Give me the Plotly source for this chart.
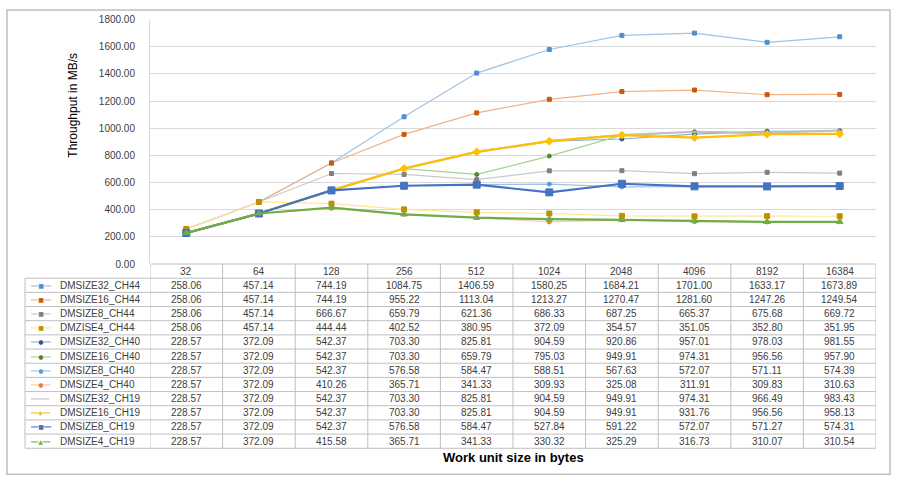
import plotly.graph_objects as go

W, H = 900, 487

sizes = ["32", "64", "128", "256", "512", "1024", "2048", "4096", "8192", "16384"]

series_names = [
    "DMSIZE32_CH44", "DMSIZE16_CH44", "DMSIZE8_CH44", "DMZISE4_CH44",
    "DMSIZE32_CH40", "DMSIZE16_CH40", "DMSIZE8_CH40", "DMSIZE4_CH40",
    "DMSIZE32_CH19", "DMSIZE16_CH19", "DMSIZE8_CH19", "DMSIZE4_CH19",
]

dmsize32_ch44 = [258.06, 457.14, 744.19, 1084.75, 1406.59, 1580.25, 1684.21, 1701.00, 1633.17, 1673.89]
dmsize16_ch44 = [258.06, 457.14, 744.19, 955.22, 1113.04, 1213.27, 1270.47, 1281.60, 1247.26, 1249.54]
dmsize8_ch44 = [258.06, 457.14, 666.67, 659.79, 621.36, 686.33, 687.25, 665.37, 675.68, 669.72]
dmzise4_ch44 = [258.06, 457.14, 444.44, 402.52, 380.95, 372.09, 354.57, 351.05, 352.80, 351.95]
dmsize32_ch40 = [228.57, 372.09, 542.37, 703.30, 825.81, 904.59, 920.86, 957.01, 978.03, 981.55]
dmsize16_ch40 = [228.57, 372.09, 542.37, 703.30, 659.79, 795.03, 949.91, 974.31, 956.56, 957.90]
dmsize8_ch40 = [228.57, 372.09, 542.37, 576.58, 584.47, 588.51, 567.63, 572.07, 571.11, 574.39]
dmsize4_ch40 = [228.57, 372.09, 410.26, 365.71, 341.33, 309.93, 325.08, 311.91, 309.83, 310.63]
dmsize32_ch19 = [228.57, 372.09, 542.37, 703.30, 825.81, 904.59, 949.91, 974.31, 966.49, 983.43]
dmsize16_ch19 = [228.57, 372.09, 542.37, 703.30, 825.81, 904.59, 949.91, 931.76, 956.56, 958.13]
dmsize8_ch19 = [228.57, 372.09, 542.37, 576.58, 584.47, 527.84, 591.22, 572.07, 571.27, 574.31]
dmsize4_ch19 = [228.57, 372.09, 415.58, 365.71, 341.33, 330.32, 325.29, 316.73, 310.07, 310.54]

all_series = [
    dmsize32_ch44, dmsize16_ch44, dmsize8_ch44, dmzise4_ch44,
    dmsize32_ch40, dmsize16_ch40, dmsize8_ch40, dmsize4_ch40,
    dmsize32_ch19, dmsize16_ch19, dmsize8_ch19, dmsize4_ch19,
]

# line colour, marker colour, marker symbol, marker size, line width, key glyph
styles = [
    ("#9DC3E6", "#4F8FCF", "square", 4, 1.2, "■"),
    ("#F4B183", "#C55A11", "square", 4, 1.2, "■"),
    ("#C9C9C9", "#7F7F7F", "square", 4, 1.2, "■"),
    ("#FFE699", "#BF9000", "square", 5, 1.2, "■"),
    ("#8FAADC", "#2F5597", "circle", 4, 1.2, "●"),
    ("#A9D18E", "#548235", "circle", 4, 1.2, "●"),
    ("#9DC3E6", "#5B9BD5", "circle", 4, 1.2, "●"),
    ("#F8CBAD", "#ED7D31", "circle", 4, 1.2, "●"),
    ("#BFBFBF", "#A5A5A5", "line-ew", 5, 2.2, "—"),
    ("#FFC000", "#FFC000", "diamond", 6, 2.2, "◆"),
    ("#4472C4", "#4472C4", "square", 7, 2.2, "■"),
    ("#70AD47", "#70AD47", "triangle-up", 6, 2.2, "▲"),
]

FONT = "Liberation Sans"
TXT = "#404040"
BORDER = "#BFBFBF"


def px(x):
    return x / W


def py(y):
    return 1 - y / H


fig = go.Figure()

for name, vals, st in zip(series_names, all_series, styles):
    lc, mc, sym, ms, lw, _ = st
    fig.add_trace(go.Scatter(
        x=sizes, y=vals, name=name, mode="lines+markers",
        line=dict(color=lc, width=lw),
        marker=dict(symbol=sym, size=ms, color=mc, line=dict(color=mc, width=1)),
        showlegend=False, cliponaxis=False,
    ))

# data table under the plot (Excel style), columns follow the category axis
row_h = 14.5
top = 265
left = 25
right = 876
n_rows = len(series_names) + 1
bottom = top + n_rows * row_h

fig.add_shape(type="line", xref="paper", yref="paper",
              x0=px(151), x1=px(right), y0=py(top), y1=py(top),
              line=dict(color=BORDER, width=1))
for k in range(1, n_rows + 1):
    yy = py(top + k * row_h)
    fig.add_shape(type="line", xref="paper", yref="paper",
                  x0=px(left), x1=px(right), y0=yy, y1=yy,
                  line=dict(color=BORDER, width=1))
fig.add_shape(type="line", xref="paper", yref="paper",
              x0=px(left), x1=px(left), y0=py(top + row_h), y1=py(bottom),
              line=dict(color=BORDER, width=1))
for i in range(len(sizes) + 1):
    fig.add_shape(type="line", xref="x", yref="paper",
                  x0=i - 0.5, x1=i - 0.5, y0=py(top), y1=py(bottom),
                  line=dict(color=BORDER, width=1))

for i, s in enumerate(sizes):
    fig.add_annotation(x=i, y=py(top + row_h / 2), xref="x", yref="paper",
                       text=s, showarrow=False, xanchor="center", yanchor="middle",
                       font=dict(family=FONT, size=10, color=TXT))

for r, (name, vals, st) in enumerate(zip(series_names, all_series, styles)):
    yc = py(top + (r + 1.5) * row_h)
    lc, mc, _, _, lw, glyph = st
    if glyph == "—":
        key = f"<span style='color:{lc}'>━━━━━</span>"
    else:
        key = (f"<span style='color:{lc}'>━━</span><span style='color:{mc}'>{glyph}</span>"
               f"<span style='color:{lc}'>━━</span>")
    fig.add_annotation(x=px(28), y=yc, xref="paper", yref="paper", text=key,
                       showarrow=False, xanchor="left", yanchor="middle",
                       font=dict(family="DejaVu Sans", size=6))
    fig.add_annotation(x=px(58), y=yc, xref="paper", yref="paper", text=name,
                       showarrow=False, xanchor="left", yanchor="middle",
                       font=dict(family=FONT, size=10, color=TXT))
    for i, v in enumerate(vals):
        fig.add_annotation(x=i, y=yc, xref="x", yref="paper", text=f"{v:.2f}",
                           showarrow=False, xanchor="center", yanchor="middle",
                           font=dict(family=FONT, size=10, color=TXT))

fig.add_annotation(x=px(73), y=py(103), xref="paper", yref="paper",
                   text="Throughput in MB/s", textangle=-90, showarrow=False,
                   xanchor="center", yanchor="middle",
                   font=dict(family=FONT, size=12, color="#000000"))
fig.add_annotation(x=px(513), y=py(463), xref="paper", yref="paper",
                   text="<b>Work unit size in bytes</b>", showarrow=False,
                   xanchor="center", yanchor="middle",
                   font=dict(family=FONT, size=13, color="#000000"))

# outer chart border
fig.add_shape(type="rect", xref="paper", yref="paper",
              x0=px(7), x1=px(890), y0=py(480), y1=py(5),
              line=dict(color="#BFBFBF", width=1.5))

fig.update_layout(
    width=W, height=H, autosize=False,
    margin=dict(l=0, r=0, t=0, b=0),
    paper_bgcolor="white", plot_bgcolor="white",
    font=dict(family=FONT, color=TXT),
    xaxis=dict(domain=[px(150), px(876)], type="category", range=[-0.5, 9.5],
               showticklabels=False, showgrid=False, zeroline=False,
               showline=False, ticks=""),
    yaxis=dict(domain=[py(265), py(15)], range=[0, 1800], dtick=200,
               tickformat=".2f", gridcolor="#D9D9D9", gridwidth=1,
               zeroline=False, showline=True, linecolor="#D9D9D9",
               tickfont=dict(family=FONT, size=10, color=TXT), ticks="",
               ticklabelstandoff=12),
)

# page body has an 8px default margin; drop it so the chart sits at 0,0
fig.write_html("out.html", config={"displayModeBar": False},
               post_script="document.body.style.margin='0';")
